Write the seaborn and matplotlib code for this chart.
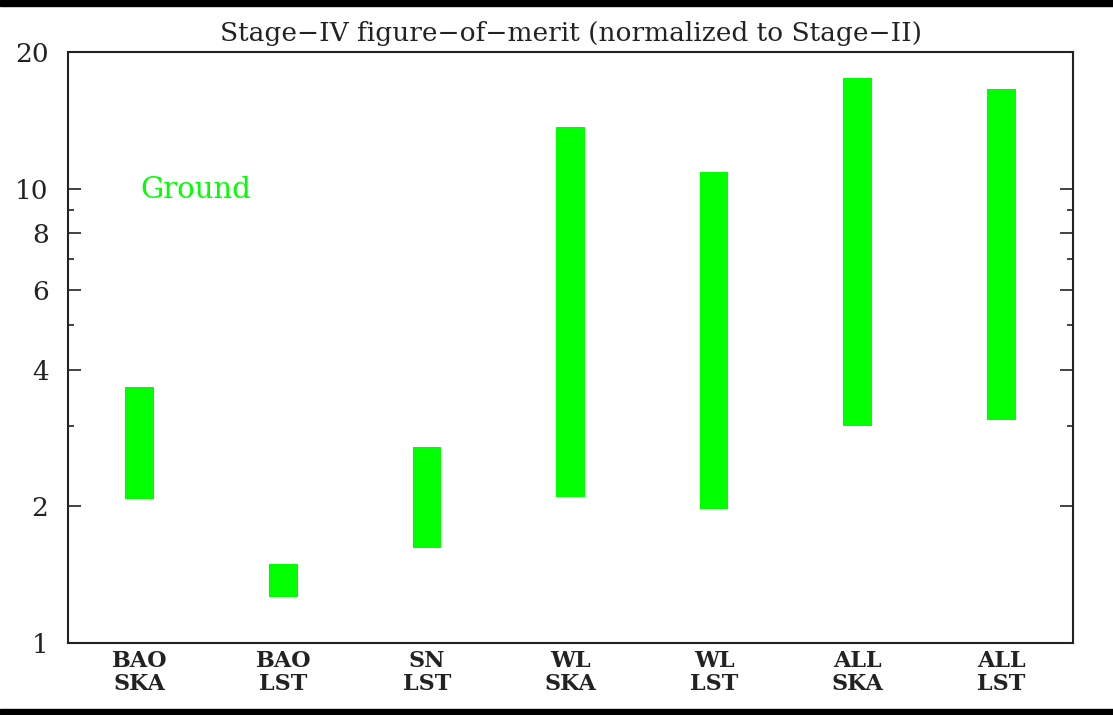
import matplotlib
matplotlib.use("Agg")
import matplotlib.pyplot as plt
from matplotlib.patches import Rectangle
from matplotlib.ticker import FixedLocator, NullFormatter
import numpy as np
import pandas as pd
import seaborn as sns

# Stage-IV figure-of-merit ranges per probe / survey
probes = ["BAO", "BAO", "SN", "WL", "WL", "ALL", "ALL"]
surveys = ["SKA", "LST", "LST", "SKA", "LST", "SKA", "LST"]
fom_low = [2.07, 1.26, 1.62, 2.10, 1.97, 3.00, 3.10]
fom_high = [3.66, 1.49, 2.70, 13.7, 10.9, 17.5, 16.6]

major_ticks = [1, 2, 4, 6, 8, 10, 20]
major_labels = ["1", "2", "4", "6", "8", "10", "20"]
minor_ticks = [3, 5, 7, 9]

title = "Stage\u2212IV figure\u2212of\u2212merit (normalized to Stage\u2212II)"
annotation = "Ground"

labels = [f"{p}\n{s}" for p, s in zip(probes, surveys)]
df = pd.DataFrame({
    "label": labels,
    "low": fom_low,
    "span": np.array(fom_high) - np.array(fom_low),
})

sns.set_theme(style="white")
plt.rcParams["font.family"] = ["DejaVu Serif"]

fig = plt.figure(figsize=(11.13, 7.15), dpi=100)
ax = fig.add_axes([0.0611, 0.1007, 0.9030, 0.8266])

sns.barplot(data=df, x="label", y="span", bottom=df["low"].to_numpy(),
            color="#00ff00", saturation=1, width=0.2, linewidth=0,
            ax=ax)

ax.set_yscale("log")
ax.set_ylim(1, 20)
ax.set_xlim(-0.5, len(labels) - 0.5)
ax.yaxis.set_major_locator(FixedLocator(major_ticks))
ax.set_yticklabels(major_labels)
ax.yaxis.set_minor_locator(FixedLocator(minor_ticks))
ax.yaxis.set_minor_formatter(NullFormatter())

ax.set_xlabel("")
ax.set_ylabel("")
for s in ax.spines.values():
    s.set_visible(True)
    s.set_color("#222222")
    s.set_linewidth(1.5)

ax.tick_params(axis="y", which="major", direction="in", length=9.5,
               width=1.2, color="#222222", left=True, right=True,
               labelsize=19, pad=14, labelcolor="#222222")
ax.tick_params(axis="y", which="minor", direction="in", length=4.5,
               width=1.2, color="#222222", left=True, right=True)
ax.tick_params(axis="x", which="both", length=0, labelsize=16, pad=5,
               labelcolor="#222222")
for t in ax.get_xticklabels():
    t.set_linespacing(1.05)
    t.set_fontweight("bold")

ax.set_title(title, fontsize=19, pad=8, color="#222222")
ax.text(0.0716, 0.7665, annotation, transform=ax.transAxes, color="#00ff00",
        fontsize=21, va="center", ha="left")

# dark bands along the top and bottom edges
fig.patches.append(Rectangle((0, 1 - 6 / 715), 1, 6 / 715,
                             transform=fig.transFigure, color="black",
                             zorder=10))
fig.patches.append(Rectangle((0, 0), 1, 6 / 715,
                             transform=fig.transFigure, color="black",
                             zorder=10))

fig.savefig("out.png", dpi=100, facecolor="white")
